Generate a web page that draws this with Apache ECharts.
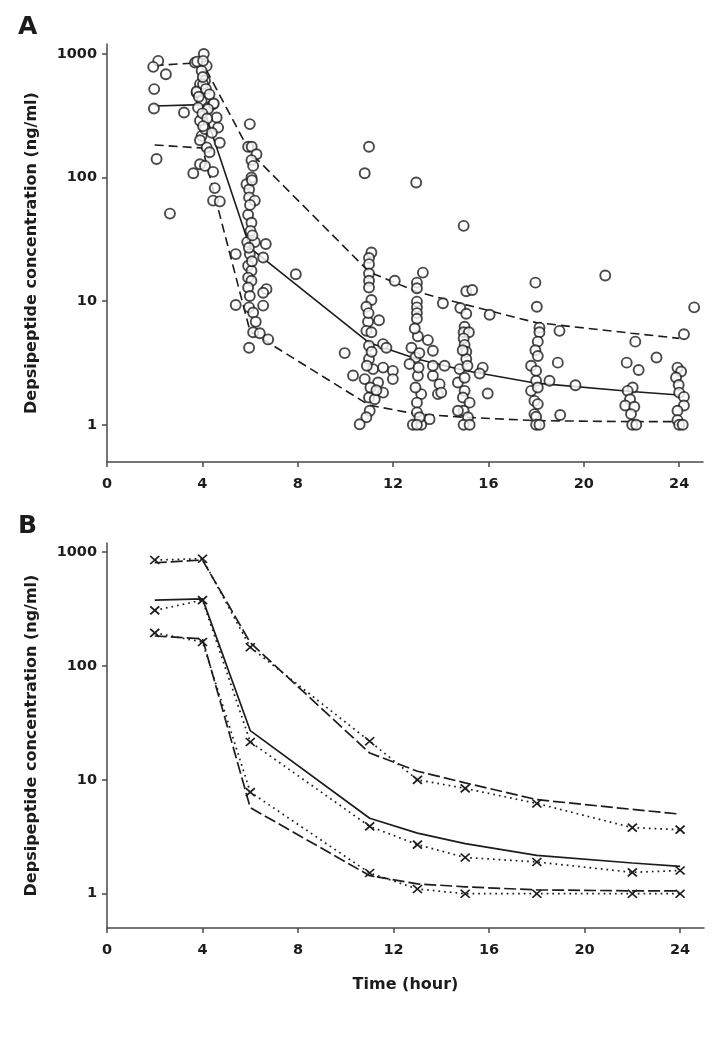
<!DOCTYPE html>
<html><head><meta charset="utf-8">
<script src="https://cdn.jsdelivr.net/npm/echarts@6/dist/echarts.min.js"></script>
<style>html,body{margin:0;padding:0;background:#fff}#c{width:721px;height:1048px}</style>
</head><body><div id="c"></div><script>
// ---- data ----
const xTicks = [0, 4, 8, 12, 16, 20, 24];
const yTicks = [1, 10, 100, 1000];
const timeModel = [2, 4, 6, 11, 13, 15, 18, 22, 24];
const modelMedian = [378, 388, 27, 4.6, 3.4, 2.75, 2.17, 1.86, 1.74];
const modelP95 = [805, 850, 160, 17.2, 11.9, 9.4, 6.7, 5.5, 5.0];
const modelP5 = [183, 173, 5.7, 1.44, 1.22, 1.15, 1.08, 1.06, 1.06];
const obsP95 = [850, 873, 146, 21.8, 10, 8.4, 6.2, 3.8, 3.65];
const obsMedian = [307, 378, 21.5, 3.9, 2.7, 2.08, 1.9, 1.54, 1.6];
const obsP5 = [195, 162, 7.8, 1.52, 1.1, 1.0, 1.0, 1.0, 1.0];

const obsEarly = [[2.15,877],[1.94,784],[2.47,684],[1.98,518],[1.97,361],[3.23,335],[2.08,141],[2.64,51]];
const obs4h = [[3.69,849],[4.06,997],[4.18,798],[3.97,727],[3.90,568],[3.76,486],[4.11,604],[3.97,416],[3.82,367],[4.24,367],
  [4.45,392],[4.60,305],[4.66,253],[4.73,191],[3.90,287],[3.97,217],[4.18,175],[3.90,128],[4.11,124],[3.62,108],
  [4.45,111],[4.52,82],[4.45,65],[4.73,64],[3.78,865],[4.03,877],[3.76,495],[4.03,568],[4.48,396],[4.24,357],
  [4.11,246],[4.02,650],[3.85,450],[4.15,520],[4.30,470],[4.00,330],[4.20,300],[4.03,260],[4.40,230],[3.90,200],[4.30,160]];
const obs6h = [[5.99,270],[5.92,177],[6.07,177],[6.27,154],[6.06,138],[6.13,124],[6.06,100],[5.85,88],[5.96,80],[5.96,69],
  [6.20,65],[5.92,50],[6.06,43],[6.02,37],[5.88,30],[6.20,30],[6.66,29],[5.40,24],[5.99,24],[6.55,22.5],
  [5.92,19.3],[6.06,17.6],[5.92,15.5],[6.06,14.6],[5.92,12.9],[6.69,12.5],[6.55,11.7],[5.99,11],[5.40,9.3],[6.55,9.2],
  [5.96,8.9],[6.13,8.1],[6.24,6.8],[6.13,5.6],[6.41,5.5],[6.76,4.9],[5.96,4.2],[6.08,95],[6.0,60],[6.1,34],
  [5.95,27],[6.08,21],[7.92,16.5]];
const obs11h = [[9.97,3.8],[10.32,2.5],[10.99,177],[10.81,108],[11.09,24.7],[10.99,22.3],[10.99,19.9],[10.99,16.7],[10.99,14.6],[10.99,12.9],
  [11.09,10.2],[10.88,9.0],[11.41,7.0],[10.95,6.8],[10.88,5.75],[11.09,5.6],[11.58,4.49],[11.72,4.2],[10.99,4.35],[10.99,3.4],
  [11.16,2.82],[11.58,2.9],[11.99,2.73],[11.99,2.34],[10.81,2.34],[11.37,2.2],[11.58,1.82],[10.99,1.66],[11.23,1.61],[11.02,1.3],
  [10.88,1.15],[10.60,1.01],[12.07,14.6],[10.97,8.0],[11.1,3.9],[10.9,3.0],[11.05,2.0],[11.3,1.9]];
const obs13h = [[12.97,91],[13.25,17],[13.0,14.1],[13.0,12.7],[13.0,9.9],[13.0,8.9],[13.0,8.0],[13.0,7.2],[13.04,5.2],[13.46,4.84],
  [12.77,4.2],[13.67,3.97],[12.94,3.5],[12.69,3.1],[13.04,2.49],[13.67,2.49],[13.95,2.13],[13.88,1.77],[13.18,1.77],[13.0,1.51],
  [13.0,1.26],[13.53,1.11],[12.83,1.0],[13.18,1.0],[13.11,1.15],[12.94,2.0],[13.07,2.9],[12.91,6.0],[13.1,3.8],[13.67,3.0],
  [14.16,3.0],[14.09,9.6],[14.02,1.82],[13.0,1.0]];
const obs15h = [[14.96,40.6],[15.07,12.0],[15.32,12.3],[14.82,8.8],[15.07,7.9],[16.05,7.75],[15.0,6.2],[14.96,5.6],[15.18,5.6],[14.96,5.0],
  [15.0,4.43],[15.07,3.9],[15.07,3.4],[14.79,2.82],[15.76,2.9],[15.63,2.6],[14.72,2.2],[15.0,1.88],[15.97,1.79],[14.93,1.66],
  [15.21,1.51],[14.96,1.3],[14.72,1.3],[15.14,1.15],[14.96,1.0],[15.21,1.0],[15.0,2.4],[15.12,3.0],[14.92,4.0]];
const obs18h = [[17.97,14.1],[18.03,9.0],[18.14,6.1],[18.14,5.6],[18.07,4.7],[17.97,4.0],[18.07,3.6],[17.79,3.0],[18.0,2.73],[18.0,2.27],
  [17.79,1.88],[18.07,2.0],[17.93,1.56],[18.07,1.47],[17.93,1.22],[18.0,1.16],[18.0,1.0],[18.14,1.0],[18.56,2.27],[18.91,3.18],
  [18.98,5.75],[19.01,1.2],[19.65,2.09]];
const obs22h = [[20.9,16.1],[22.16,4.7],[21.8,3.18],[23.05,3.5],[22.3,2.77],[22.05,2.0],[21.84,1.88],[21.94,1.61],[21.74,1.43],[22.12,1.4],
  [21.98,1.22],[22.03,1.0],[22.2,1.0]];
const obs24h = [[24.63,8.9],[24.2,5.4],[23.93,2.9],[24.08,2.7],[23.87,2.41],[23.98,2.1],[24.0,1.82],[24.2,1.68],[24.2,1.43],[23.93,1.3],
  [23.93,1.09],[24.0,1.0],[24.15,1.0]];

// ---- chart ----
const FONT = 'DejaVu Sans';
const INK = '#1c1c1c';
const AX = '#4a4a4a';
const pairs = arr => timeModel.map((t, i) => [t, arr[i]]);
const observed = [].concat(obsEarly, obs4h, obs6h, obs11h, obs13h, obs15h, obs18h, obs22h, obs24h);

function xAxisCfg(gi, name) {
  return {
    type: 'value', gridIndex: gi, min: 0, max: 25,
    name: name || '', nameLocation: 'middle', nameGap: 49,
    nameTextStyle: {fontFamily: FONT, fontWeight: 'bold', fontSize: 16, color: INK},
    axisLine: {show: true, onZero: false, lineStyle: {color: AX, width: 1.5}},
    axisTick: {show: true, length: 5, customValues: xTicks, lineStyle: {color: AX, width: 1.5}},
    axisLabel: {customValues: xTicks, margin: 15, fontFamily: FONT, fontWeight: 'bold', fontSize: 14.5, color: INK,
      formatter: v => String(v)},
    splitLine: {show: false}
  };
}
function yAxisCfg(gi) {
  return {
    type: 'log', logBase: 10, gridIndex: gi, min: 0.5, max: 1200,
    name: 'Depsipeptide concentration (ng/ml)', nameLocation: 'middle', nameGap: 67, nameRotate: 90,
    nameTextStyle: {fontFamily: FONT, fontWeight: 'bold', fontSize: 16, color: INK},
    axisLine: {show: true, onZero: false, lineStyle: {color: AX, width: 1.5}},
    axisTick: {show: true, length: 5, customValues: yTicks, lineStyle: {color: AX, width: 1.5}},
    axisLabel: {customValues: yTicks, margin: 10, fontFamily: FONT, fontWeight: 'bold', fontSize: 14.5, color: INK,
      formatter: v => String(v)},
    splitLine: {show: false}, minorTick: {show: false}, minorSplitLine: {show: false}
  };
}
function lineS(gi, arr, type, width, extra) {
  return Object.assign({
    type: 'line', xAxisIndex: gi, yAxisIndex: gi, data: pairs(arr), showSymbol: false, symbol: 'none',
    lineStyle: {color: INK, width: width, type: type}, silent: true, animation: false, z: 2
  }, extra || {});
}
const cross = 'path://M0,0L10,10M10,0L0,10';
function obsS(arr) {
  return {
    type: 'line', xAxisIndex: 1, yAxisIndex: 1, data: pairs(arr),
    showSymbol: true, symbol: cross, symbolSize: [9, 8], symbolKeepAspect: false,
    itemStyle: {color: 'rgba(0,0,0,0)', borderColor: INK, borderWidth: 1.7},
    lineStyle: {color: INK, width: 1.7, type: [1.7, 4]}, silent: true, animation: false, z: 3
  };
}

const chart = echarts.init(document.getElementById('c'), null, {renderer: 'canvas'});
chart.setOption({
  animation: false,
  backgroundColor: '#fff',
  grid: [
    {left: 107, top: 44, width: 596, height: 418},
    {left: 107, top: 543, width: 597, height: 385}
  ],
  xAxis: [xAxisCfg(0), xAxisCfg(1, 'Time (hour)')],
  yAxis: [yAxisCfg(0), yAxisCfg(1)],
  graphic: [
    {type: 'text', left: 18, top: 15, style: {text: 'A', font: 'bold 25px "DejaVu Sans"', fill: INK}},
    {type: 'text', left: 18, top: 514, style: {text: 'B', font: 'bold 25px "DejaVu Sans"', fill: INK}}
  ],
  series: [
    lineS(0, modelP95, [9, 5], 1.6),
    lineS(0, modelP5, [9, 5], 1.6),
    lineS(0, modelMedian, 'solid', 1.6),
    {
      type: 'scatter', xAxisIndex: 0, yAxisIndex: 0, data: observed,
      symbol: 'circle', symbolSize: 10,
      itemStyle: {color: '#fff', borderColor: INK, borderWidth: 1.9},
      silent: true, animation: false, z: 4
    },
    lineS(1, modelP95, [12, 4], 1.7),
    lineS(1, modelP5, [12, 4], 1.7),
    lineS(1, modelMedian, 'solid', 1.7),
    obsS(obsP95), obsS(obsMedian), obsS(obsP5)
  ]
});
</script></body></html>
